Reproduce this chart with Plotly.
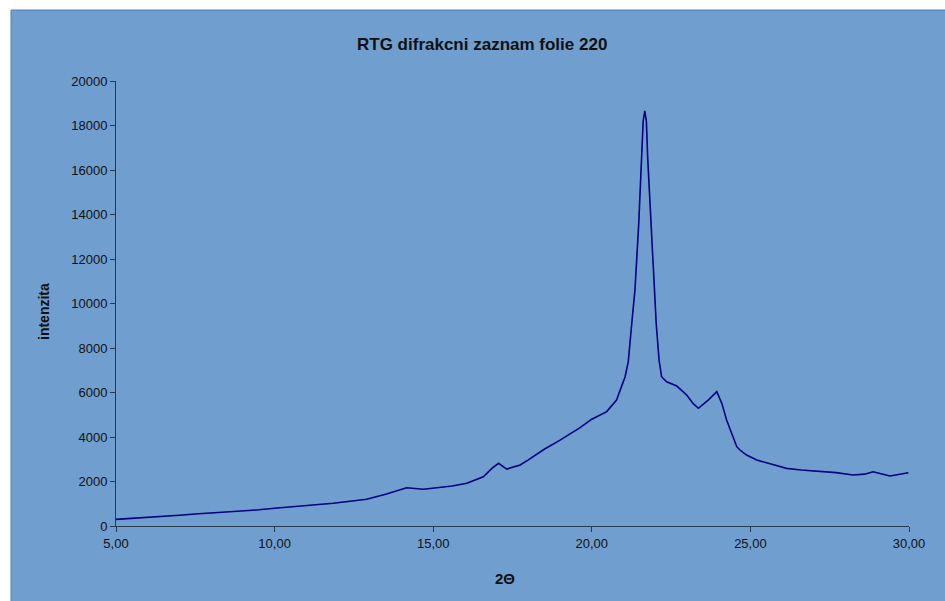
import plotly.graph_objects as go

# Data (2-theta vs intensity)
two_theta = [5.00, 6.00, 7.00, 7.50, 8.50, 9.50, 10.00, 10.80, 11.85, 12.90, 13.53, 14.16,
             14.69, 15.11, 15.60, 16.06, 16.58, 16.85, 17.06, 17.32, 17.74, 18.00, 18.50,
             19.00, 19.63, 20.00, 20.47, 20.78, 20.89, 20.97, 21.05, 21.15, 21.26, 21.36,
             21.48, 21.56, 21.62, 21.67, 21.72, 21.76, 21.86, 21.98, 22.03, 22.12, 22.20,
             22.36, 22.68, 22.99, 23.20, 23.36, 23.67, 23.94, 24.10, 24.25, 24.57, 24.67,
             24.88, 25.20, 25.60, 26.14, 26.60, 27.19, 27.70, 28.24, 28.60, 28.87, 29.40,
             29.98]
intensity = [300, 380, 480, 540, 630, 730, 800, 900, 1020, 1200, 1440, 1720,
             1650, 1720, 1800, 1920, 2215, 2590, 2820, 2560, 2740, 2970, 3450,
             3860, 4420, 4800, 5140, 5660, 6040, 6400, 6710, 7385, 9110, 10600,
             13600, 16600, 18200, 18660, 18200, 16600, 13600, 10600, 9110, 7460, 6710,
             6485, 6290, 5890, 5500, 5290, 5660, 6036, 5510, 4760, 3565, 3415,
             3190, 2966, 2800, 2590, 2520, 2440, 2400, 2290, 2330, 2440, 2250,
             2395]

x_tickvals = [5, 10, 15, 20, 25, 30]
x_ticktext = ["5,00", "10,00", "15,00", "20,00", "25,00", "30,00"]
y_tickvals = [0, 2000, 4000, 6000, 8000, 10000, 12000, 14000, 16000, 18000, 20000]
y_ticktext = [str(v) for v in y_tickvals]

BG = "#709ECF"
FONT = "Liberation Sans, Arial, sans-serif"

fig = go.Figure()
fig.add_trace(go.Scatter(x=two_theta, y=intensity, mode="lines",
                         line=dict(color="#000080", width=1.6),
                         showlegend=False, hoverinfo="skip"))

L, R, T, B = 116, 36, 81, 75
W, H = 945, 601
pw, ph = W - L - R, H - T - B

def px2x(px):
    return (px - L) / pw

def py2y(py):
    return (H - B - py) / ph

fig.add_shape(type="rect", xref="paper", yref="paper",
              x0=px2x(11), x1=px2x(947), y0=py2y(10), y1=py2y(603),
              fillcolor=BG, line=dict(color="#4F7FB5", width=1), layer="below")

fig.update_layout(
    width=W, height=H,
    margin=dict(l=L, r=R, t=T, b=B),
    paper_bgcolor="white",
    plot_bgcolor="rgba(0,0,0,0)",
    font=dict(family=FONT, size=13, color="#111111"),
    annotations=[
        dict(text="<b>RTG difrakcni zaznam folie 220</b>", xref="paper", yref="paper",
             x=px2x(482), y=py2y(45), xanchor="center", yanchor="middle",
             showarrow=False, font=dict(size=17, family=FONT)),
        dict(text="<b>intenzita</b>", xref="paper", yref="paper", textangle=-90,
             x=px2x(44), y=py2y(312), xanchor="center", yanchor="middle",
             showarrow=False, font=dict(size=14, family=FONT)),
        dict(text="<b>2Θ</b>", xref="paper", yref="paper",
             x=px2x(505), y=py2y(578), xanchor="center", yanchor="middle",
             showarrow=False, font=dict(size=15, family=FONT)),
    ],
)
fig.update_xaxes(range=[5, 30], tickvals=x_tickvals, ticktext=x_ticktext,
                 showgrid=False, zeroline=False, showline=True, linecolor="#2B3A4A",
                 linewidth=1, ticks="outside", ticklen=5, tickcolor="#2B3A4A",
                 tickfont=dict(size=13, color="#111111"))
fig.update_yaxes(range=[0, 20000], tickvals=y_tickvals, ticktext=y_ticktext,
                 showgrid=False, zeroline=False, showline=True, linecolor="#2B3A4A",
                 linewidth=1, ticks="outside", ticklen=5, tickcolor="#2B3A4A",
                 tickfont=dict(size=13, color="#111111"))

fig.write_html("out.html")
